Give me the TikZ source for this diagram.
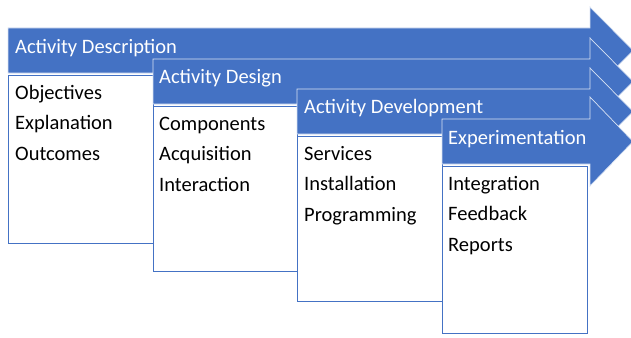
\documentclass[tikz,border=0pt]{standalone}
\usepackage{fontspec}
\setmainfont{Carlito}
\definecolor{obl}{HTML}{4472C4}
\begin{document}
\begin{tikzpicture}[x=1pt,y=-1pt,
  arrowshape/.style={fill=obl,draw=white!80!obl,line width=0.7pt,line join=miter},
  boxshape/.style={fill=white,draw=obl,line width=0.9pt},
  headtxt/.style={anchor=base west,inner sep=0pt,text=white,font=\fontsize{20.5}{24}\selectfont},
  itemtxt/.style={anchor=base west,inner sep=0pt,text=black,font=\fontsize{20.5}{24}\selectfont}]
\useasboundingbox (0,0) rectangle (631,337);
% stage 1
\draw[arrowshape] (8,28) -- (590,28) -- (590,7) -- (633,50.5) -- (590,94) -- (590,73) -- (8,73) -- cycle;
\draw[boxshape] (8,75) rectangle (153,243);
\node[headtxt] (h1) at (15,53) {Activity Description};
\node[itemtxt] (a1) at (15,99) {Objectives};
\node[itemtxt] (a2) at (15,129.5) {Explanation};
\node[itemtxt] (a3) at (15,160) {Outcomes};
% stage 2
\draw[arrowshape] (153,59) -- (590,59) -- (590,38) -- (633,81.5) -- (590,125) -- (590,104) -- (153,104) -- cycle;
\draw[boxshape] (153,106) rectangle (297,271);
\node[headtxt] (h2) at (159,83.5) {Activity Design};
\node[itemtxt] (b1) at (159,130) {Components};
\node[itemtxt] (b2) at (159,160.5) {Acquisition};
\node[itemtxt] (b3) at (159,191) {Interaction};
% stage 3
\draw[arrowshape] (297,89) -- (590,89) -- (590,68) -- (633,111.5) -- (590,155) -- (590,134) -- (297,134) -- cycle;
\draw[boxshape] (297,136) rectangle (442,301);
\node[headtxt] (h3) at (304,113.5) {Activity Development};
\node[itemtxt] (c1) at (304,160) {Services};
\node[itemtxt] (c2) at (304,190.5) {Installation};
\node[itemtxt] (c3) at (304,221) {Programming};
% stage 4
\draw[arrowshape] (442,119) -- (590,119) -- (590,97) -- (633,141.5) -- (590,186) -- (590,164) -- (442,164) -- cycle;
\draw[boxshape] (442,166) rectangle (587,333);
\node[headtxt] (h4) at (448,144) {Experimentation};
\node[itemtxt] (d1) at (448,190) {Integration};
\node[itemtxt] (d2) at (448,220.5) {Feedback};
\node[itemtxt] (d3) at (448,251) {Reports};
\end{tikzpicture}
\end{document}
